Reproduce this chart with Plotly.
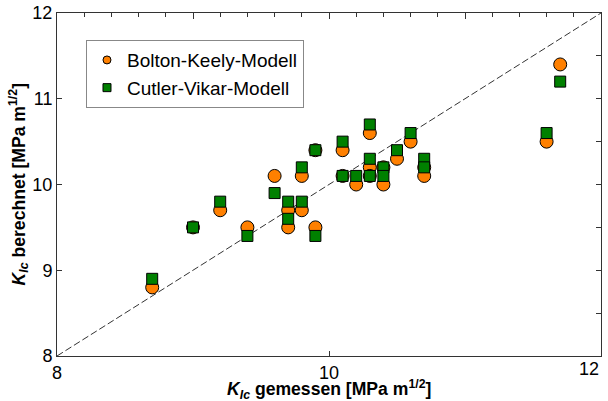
import plotly.graph_objects as go

# measured K_Ic values [MPa m^1/2]
k_gemessen = [8.7, 9.0, 9.2, 9.4, 9.6, 9.7, 9.7, 9.8, 9.8, 9.9, 9.9, 10.1,
              10.1, 10.2, 10.3, 10.3, 10.3, 10.4, 10.4, 10.5, 10.6, 10.7, 10.7,
              11.6, 11.7]
# calculated K_Ic, Bolton-Keely model
k_bolton = [8.8, 9.5, 9.7, 9.5, 10.1, 9.7, 9.5, 10.1, 9.7, 10.4, 9.5, 10.4,
            10.1, 10.0, 10.6, 10.2, 10.1, 10.2, 10.0, 10.3, 10.5, 10.2, 10.1,
            10.5, 11.4]
# calculated K_Ic, Cutler-Vikar model
k_cutler = [8.9, 9.5, 9.8, 9.4, 9.9, 9.8, 9.6, 10.2, 9.8, 10.4, 9.4, 10.5,
            10.1, 10.1, 10.7, 10.3, 10.1, 10.2, 10.1, 10.4, 10.6, 10.3, 10.2,
            10.6, 11.2]

axis_range = [8, 12]
x_tickvals = [8, 10]
x_ticktext = ["8", "10"]
x_end_label = "12"
series_names = ["Bolton-Keely-Modell", "Cutler-Vikar-Modell"]
x_title = "<b><i>K</i><sub><i>Ic</i></sub> gemessen [MPa m<sup>1/2</sup>]</b>"
y_title = "<b><i>K</i><sub><i>Ic</i></sub> berechnet [MPa m<sup>1/2</sup>]</b>"

FONT = "Arial, 'Liberation Sans', sans-serif"
ORANGE = "#FF8000"
GREEN = "#008000"
AX = "#333333"

fig = go.Figure()

# identity line
fig.add_trace(go.Scatter(x=axis_range, y=axis_range, mode="lines",
                         line=dict(color="#333333", width=1, dash="7px,3px"),
                         showlegend=False, hoverinfo="skip"))

fig.add_trace(go.Scatter(x=k_gemessen, y=k_bolton, mode="markers",
                         name=series_names[0], showlegend=False,
                         marker=dict(symbol="circle", size=13, color=ORANGE,
                                     line=dict(color="black", width=1))))
fig.add_trace(go.Scatter(x=k_gemessen, y=k_cutler, mode="markers",
                         name=series_names[1], showlegend=False,
                         marker=dict(symbol="square", size=11, color=GREEN,
                                     line=dict(color="black", width=1))))

# legend-only entries with smaller symbols
fig.add_trace(go.Scatter(x=[None], y=[None], mode="markers", name=series_names[0],
                         marker=dict(symbol="circle", size=8, color=ORANGE,
                                     line=dict(color="black", width=1))))
fig.add_trace(go.Scatter(x=[None], y=[None], mode="markers", name=series_names[1],
                         marker=dict(symbol="square", size=8, color=GREEN,
                                     line=dict(color="black", width=1))))

# dummy trace for mirrored top/right axes
fig.add_trace(go.Scatter(x=[None], y=[None], xaxis="x2", yaxis="y2",
                         showlegend=False, hoverinfo="skip"))

fig.update_layout(
    width=608, height=401,
    margin=dict(l=57, r=7, t=13, b=45, autoexpand=False),
    paper_bgcolor="white", plot_bgcolor="white",
    font=dict(family=FONT, size=18, color="black"),
    showlegend=True,
    legend=dict(x=0.0533, y=0.921, xanchor="left", yanchor="top",
                bgcolor="white", bordercolor="#888888", borderwidth=1,
                font=dict(size=19), tracegroupgap=0, itemwidth=30),
    xaxis=dict(range=axis_range, tickvals=x_tickvals, ticktext=x_ticktext,
               ticks="inside", ticklen=5, tickcolor=AX, showline=True,
               linecolor=AX, linewidth=1, showgrid=False, zeroline=False,
               tickfont=dict(size=18), automargin=False),
    yaxis=dict(range=axis_range, dtick=1, ticks="inside", ticklen=5,
               tickcolor=AX, showline=True, linecolor=AX,
               linewidth=1, showgrid=False, zeroline=False,
               tickfont=dict(size=18), ticklabelstandoff=0, automargin=False),
    xaxis2=dict(range=axis_range, overlaying="x", side="top", anchor="y2",
                dtick=1, ticks="inside", ticklen=6, tickcolor=AX,
                showticklabels=False, showline=True, linecolor=AX,
                showgrid=False, zeroline=False, automargin=False,
                minor=dict(dtick=0.2, ticks="inside", ticklen=4,
                           tickcolor=AX, showgrid=False)),
    yaxis2=dict(range=axis_range, overlaying="y", side="right", anchor="x2",
                dtick=0.5, ticks="inside", ticklen=5, tickcolor=AX,
                showticklabels=False, showline=True, linecolor=AX,
                showgrid=False, zeroline=False, automargin=False),
    annotations=[
        dict(text=x_end_label, xref="paper", yref="paper", x=1.0, y=-0.038,
             xanchor="right", yanchor="middle", showarrow=False,
             font=dict(size=18)),
        dict(text=x_title, xref="paper", yref="paper", x=0.5, y=-0.097,
             xanchor="center", yanchor="middle", showarrow=False,
             font=dict(size=17.6)),
        dict(text=y_title, xref="paper", yref="paper", x=-0.07, y=0.5,
             xanchor="center", yanchor="middle", textangle=-90,
             showarrow=False, font=dict(size=17.6)),
    ],
)

fig.write_html("out.html")
